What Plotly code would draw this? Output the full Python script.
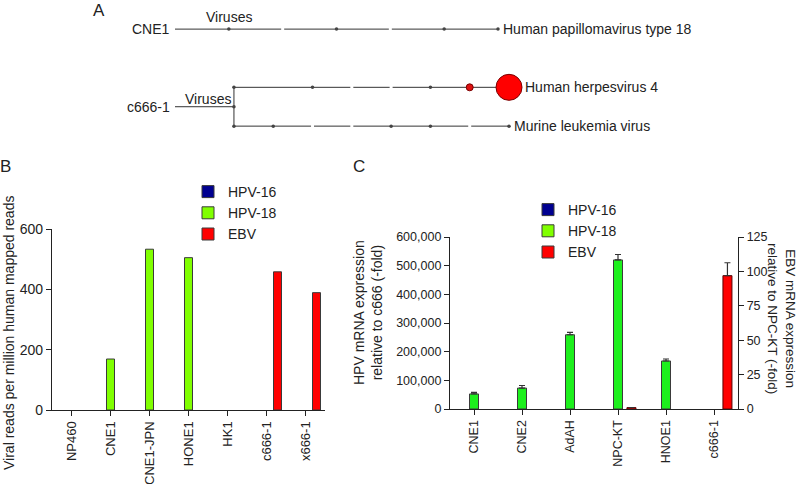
import plotly.graph_objects as go

W, H = 800, 484
FONT = "Liberation Sans, Arial, Helvetica, sans-serif"
INK = "#222222"

# ---------------- Panel A : taxonomy trees ----------------
cne1_depths = [0, 1, 2, 3, 4, 5, 6]
cne1_node_kind = ["root", "dot", "gap", "dot", "gap", "dot", "leaf"]

c666_root_depths = [0, 1.5]
c666_top_depths = [1.5, 2.5, 3.5, 4.5, 5.5, 6.5, 7.5, 8.5]
c666_top_kind = ["dot", "none", "dot", "gap", "gap", "dot", "red", "big"]
c666_bot_depths = [1.5, 2.5, 3.5, 4.5, 5.5, 6.5, 7.5, 8.5]
c666_bot_kind = ["dot", "dot", "gap", "gap", "dot", "dot", "gap", "leaf"]
row_cne1, row_top, row_root, row_bot = 0, 1.5, 2.0, 2.5

# ---------------- Panel B ----------------
b_cats = ["NP460", "CNE1", "CNE1-JPN", "HONE1", "HK1", "c666-1", "x666-1"]
b_hpv16 = [0, 0, 0, 0, 0, 0, 0]
b_hpv18 = [0, 169, 533, 505, 0, 0, 0]
b_ebv = [0, 0, 0, 0, 0, 458, 389]

# ---------------- Panel C ----------------
c_cats = ["CNE1", "CNE2", "AdAH", "NPC-KT", "HNOE1", "c666-1"]
c_hpv16 = [0, 0, 0, 0, 0, 0]
c_hpv18 = [52500, 73000, 259000, 520000, 167500, 0]
c_hpv18_err = [5500, 9000, 8000, 19000, 7000, 0]
c_ebv = [0, 0, 0, 1.0, 0, 96.9]
c_ebv_err = [0, 0, 0, 0, 0, 9.4]

NAVY = "#000090"
LIME = "#80FF00"
GREEN = "#1DF01D"
RED = "#FF0000"
OUTLINE = "#3a3a3a"

fig = go.Figure()

def px_x(p):
    return p / W

def px_y(p):
    return 1 - p / H

def nonzero(cats, vals, errs=None):
    keep = [i for i, v in enumerate(vals) if v]
    xs = [cats[i] for i in keep]
    ys = [vals[i] for i in keep]
    es = [errs[i] for i in keep] if errs is not None else None
    return xs, ys, es

# ---- Tree A traces ----
def tree_path(xs, ys, kinds, xa):
    fig.add_trace(go.Scatter(x=xs, y=ys, mode="lines", xaxis=xa, yaxis="y4",
                             line=dict(color="#333333", width=1), showlegend=False,
                             hoverinfo="skip", cliponaxis=False))
    gx = [x for x, k in zip(xs, kinds) if k == "gap"]
    gy = [y for y, k in zip(ys, kinds) if k == "gap"]
    if gx:
        fig.add_trace(go.Scatter(x=gx, y=gy, mode="markers", xaxis=xa, yaxis="y4",
                                 marker=dict(symbol="square", size=3, color="white",
                                             line=dict(width=0)),
                                 showlegend=False, hoverinfo="skip", cliponaxis=False))
    dx = [x for x, k in zip(xs, kinds) if k in ("dot", "leaf")]
    dy = [y for y, k in zip(ys, kinds) if k in ("dot", "leaf")]
    if dx:
        fig.add_trace(go.Scatter(x=dx, y=dy, mode="markers", xaxis=xa, yaxis="y4",
                                 marker=dict(size=3.5, color="#444444", line=dict(width=0)),
                                 showlegend=False, hoverinfo="skip", cliponaxis=False))
    rx = [x for x, k in zip(xs, kinds) if k == "red"]
    ry = [y for y, k in zip(ys, kinds) if k == "red"]
    if rx:
        fig.add_trace(go.Scatter(x=rx, y=ry, mode="markers", xaxis=xa, yaxis="y4",
                                 marker=dict(size=7, color="#DD1111",
                                             line=dict(width=1, color="#7a0000")),
                                 showlegend=False, hoverinfo="skip", cliponaxis=False))
    bx = [x for x, k in zip(xs, kinds) if k == "big"]
    by = [y for y, k in zip(ys, kinds) if k == "big"]
    if bx:
        fig.add_trace(go.Scatter(x=bx, y=by, mode="markers", xaxis=xa, yaxis="y4",
                                 marker=dict(size=26, color=RED,
                                             line=dict(width=1, color="#7a0000")),
                                 showlegend=False, hoverinfo="skip", cliponaxis=False))

tree_path(cne1_depths, [row_cne1] * len(cne1_depths), cne1_node_kind, "x3")
# c666-1 root + junction
fig.add_trace(go.Scatter(x=c666_root_depths, y=[row_root, row_root], mode="lines",
                         xaxis="x4", yaxis="y4", line=dict(color="#333333", width=1),
                         showlegend=False, hoverinfo="skip", cliponaxis=False))
fig.add_trace(go.Scatter(x=[c666_top_depths[0], c666_bot_depths[0]], y=[row_top, row_bot],
                         mode="lines", xaxis="x4", yaxis="y4",
                         line=dict(color="#333333", width=1), showlegend=False,
                         hoverinfo="skip", cliponaxis=False))
fig.add_trace(go.Scatter(x=[c666_root_depths[-1]], y=[row_root], mode="markers",
                         xaxis="x4", yaxis="y4",
                         marker=dict(size=3.5, color="#444444"), showlegend=False,
                         hoverinfo="skip", cliponaxis=False))
tree_path(c666_bot_depths, [row_bot] * len(c666_bot_depths), c666_bot_kind, "x4")
tree_path(c666_top_depths, [row_top] * len(c666_top_depths), c666_top_kind, "x4")

# ---- Panel B bars ----
bw = 0.205
bsh = 0.282
for name, vals, col, off in [("HPV-16", b_hpv16, NAVY, -bsh),
                             ("HPV-18", b_hpv18, LIME, 0),
                             ("EBV", b_ebv, RED, bsh)]:
    xs, ys, _ = nonzero(b_cats, vals)
    fig.add_trace(go.Bar(x=xs, y=ys, name=name, xaxis="x", yaxis="y",
                         width=bw, offset=off - bw / 2,
                         marker=dict(color=col, line=dict(color=OUTLINE, width=1)),
                         showlegend=False))
# legend entries for B
for name, col in [("HPV-16", NAVY), ("HPV-18", LIME), ("EBV", RED)]:
    fig.add_trace(go.Bar(x=[None], y=[None], name=name, xaxis="x", yaxis="y",
                         marker=dict(color=col, line=dict(color=OUTLINE, width=1)),
                         legend="legend"))

# ---- Panel C bars ----
cw = 0.1875
csh = 0.28
xs, ys, _ = nonzero(c_cats, c_hpv16)
fig.add_trace(go.Bar(x=xs, y=ys, name="HPV-16", xaxis="x2", yaxis="y2",
                     width=cw, offset=-csh - cw / 2,
                     marker=dict(color=NAVY, line=dict(color=OUTLINE, width=1)),
                     showlegend=False))
xs, ys, es = nonzero(c_cats, c_hpv18, c_hpv18_err)
fig.add_trace(go.Bar(x=xs, y=ys, name="HPV-18", xaxis="x2", yaxis="y2",
                     width=cw, offset=-cw / 2,
                     marker=dict(color=GREEN, line=dict(color=OUTLINE, width=1)),
                     error_y=dict(type="data", array=es, arrayminus=[0] * len(es),
                                  symmetric=False, color="#333333", thickness=1.2,
                                  width=3),
                     showlegend=False))
xs, ys, es = nonzero(c_cats, c_ebv, c_ebv_err)
fig.add_trace(go.Bar(x=xs, y=ys, name="EBV", xaxis="x2", yaxis="y3",
                     width=cw, offset=csh - cw / 2,
                     marker=dict(color=RED, line=dict(color="#5a0000", width=1)),
                     error_y=dict(type="data", array=es, arrayminus=[0] * len(es),
                                  symmetric=False, color="#333333", thickness=1.2,
                                  width=3, visible=True),
                     showlegend=False))
for name, col in [("HPV-16", NAVY), ("HPV-18", LIME), ("EBV", RED)]:
    fig.add_trace(go.Bar(x=[None], y=[None], name=name, xaxis="x2", yaxis="y2",
                         marker=dict(color=col, line=dict(color=OUTLINE, width=1)),
                         legend="legend2"))

axis_common = dict(showgrid=False, zeroline=False, showline=True, linecolor=INK,
                   linewidth=1.3, ticks="outside", ticklen=5, tickwidth=1.3,
                   tickcolor=INK, fixedrange=True, automargin=False)

fig.update_layout(
    width=W, height=H, margin=dict(l=0, r=0, t=0, b=0, autoexpand=False),
    paper_bgcolor="white", plot_bgcolor="rgba(0,0,0,0)",
    font=dict(family=FONT, color=INK, size=14),
    barmode="overlay",
    xaxis=dict(domain=[px_x(52), px_x(325)], anchor="y", type="category",
               categoryorder="array", categoryarray=b_cats, range=[-0.5, 6.5],
               tickangle=-90, tickfont=dict(size=13), **axis_common),
    yaxis=dict(domain=[px_y(410), px_y(229)], anchor="x", range=[0, 600],
               tickvals=[0, 200, 400, 600], tickfont=dict(size=14), **axis_common),
    xaxis2=dict(domain=[px_x(450), px_x(738)], anchor="y2", type="category",
                categoryorder="array", categoryarray=c_cats, range=[-0.5, 5.5],
                tickangle=-90, tickfont=dict(size=12.5), **axis_common),
    yaxis2=dict(domain=[px_y(409), px_y(237)], anchor="x2", range=[0, 600000],
                tickvals=[0, 100000, 200000, 300000, 400000, 500000, 600000],
                tickformat=",", tickfont=dict(size=12.5), **axis_common),
    yaxis3=dict(overlaying="y2", anchor="x2", side="right", range=[0, 125],
                tickvals=[0, 25, 50, 75, 100, 125], tickfont=dict(size=12.5),
                **axis_common),
    xaxis3=dict(domain=[px_x(175), px_x(498)], anchor="y4", range=[0, 6],
                visible=False, fixedrange=True),
    xaxis4=dict(domain=[px_x(175), px_x(509)], anchor="y4", range=[0, 8.5],
                visible=False, fixedrange=True),
    yaxis4=dict(domain=[px_y(153.3), 1], anchor="x3", range=[3.2, -0.75],
                visible=False, fixedrange=True),
    legend=dict(x=px_x(188), y=px_y(176), xanchor="left", yanchor="top",
                bgcolor="rgba(0,0,0,0)", font=dict(size=14), tracegroupgap=0,
                itemwidth=30),
    legend2=dict(x=px_x(528), y=px_y(194), xanchor="left", yanchor="top",
                 bgcolor="rgba(0,0,0,0)", font=dict(size=14), tracegroupgap=0,
                 itemwidth=30),
)

ann = []
# Tree labels
ann.append(dict(x=0, y=row_cne1, xref="x3", yref="y4", text="CNE1", showarrow=False,
                xanchor="right", xshift=-3, font=dict(size=14)))
ann.append(dict(x=1, y=row_cne1, xref="x3", yref="y4", text="Viruses", showarrow=False,
                xanchor="center", yanchor="bottom", yshift=2, font=dict(size=14)))
ann.append(dict(x=6, y=row_cne1, xref="x3", yref="y4", text="Human papillomavirus type 18",
                showarrow=False, xanchor="left", xshift=3, font=dict(size=14)))
ann.append(dict(x=0, y=row_root, xref="x4", yref="y4", text="c666-1", showarrow=False,
                xanchor="right", xshift=-3, font=dict(size=14)))
ann.append(dict(x=1.5, y=row_root, xref="x4", yref="y4", text="Viruses", showarrow=False,
                xanchor="right", yanchor="bottom", xshift=-1, yshift=-2, font=dict(size=14)))
ann.append(dict(x=8.5, y=row_top, xref="x4", yref="y4", text="Human herpesvirus 4",
                showarrow=False, xanchor="left", xshift=14, font=dict(size=14)))
ann.append(dict(x=8.5, y=row_bot, xref="x4", yref="y4", text="Murine leukemia virus",
                showarrow=False, xanchor="left", xshift=3, font=dict(size=14)))
# Panel letters
for lbl, x, y in [("A", 99, 10), ("B", 5, 166), ("C", 359, 166)]:
    ann.append(dict(x=px_x(x), y=px_y(y), xref="paper", yref="paper", text=lbl,
                    showarrow=False, xanchor="center", yanchor="middle",
                    font=dict(size=17)))
# Axis titles
ann.append(dict(x=px_x(9), y=px_y(333), xref="paper", yref="paper",
                text="Viral reads per million human mapped reads", textangle=-90,
                showarrow=False, xanchor="center", yanchor="middle", font=dict(size=14)))
ann.append(dict(x=px_x(368), y=px_y(313), xref="paper", yref="paper",
                text="HPV mRNA expression<br>relative to c666 (-fold)", textangle=-90,
                showarrow=False, xanchor="center", yanchor="middle", font=dict(size=14)))
ann.append(dict(x=px_x(782), y=px_y(318), xref="paper", yref="paper",
                text="EBV mRNA expression<br>relative to NPC-KT (-fold)", textangle=90,
                showarrow=False, xanchor="center", yanchor="middle", font=dict(size=13.5)))
fig.update_layout(annotations=ann)

fig.write_html("out.html", config={"displayModeBar": False},
               post_script="document.body.style.margin='0';")
